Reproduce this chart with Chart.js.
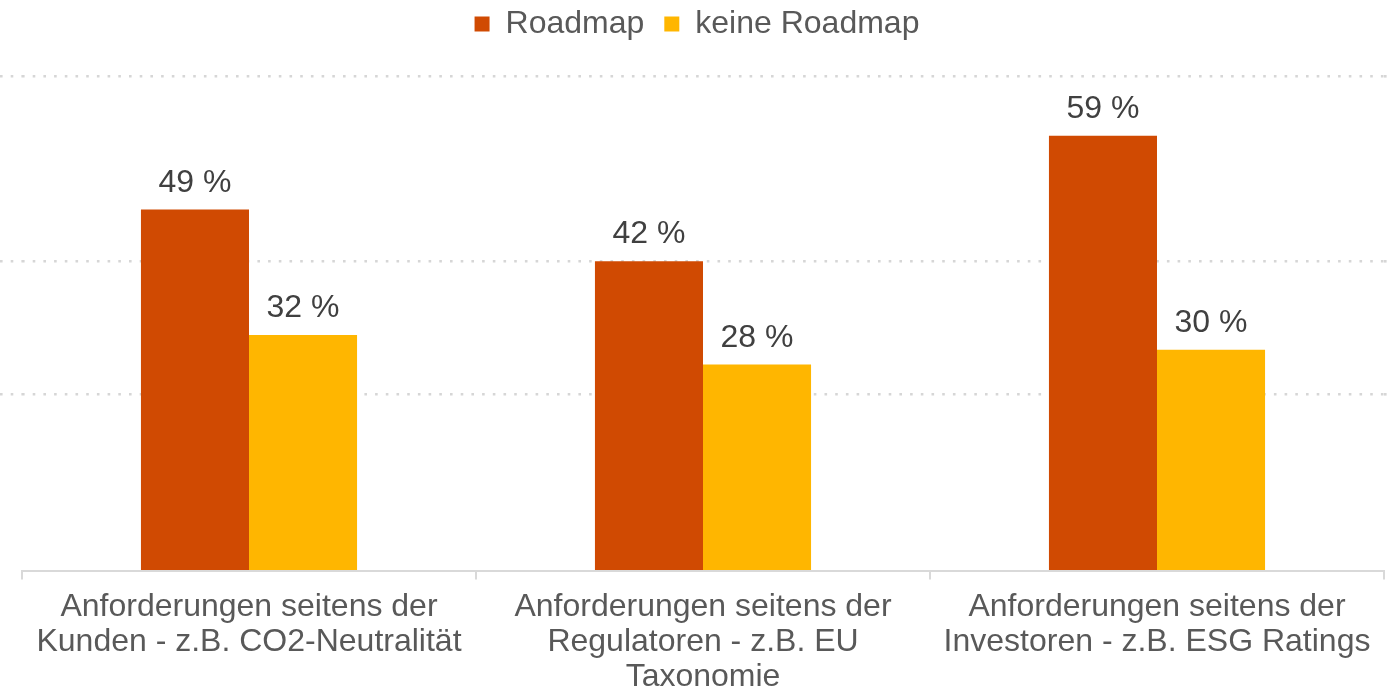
<!DOCTYPE html>
<html>
<head>
<meta charset="utf-8">
<script src="https://cdn.jsdelivr.net/npm/chart.js@4/dist/chart.umd.min.js"></script>
<style>
  html, body { margin: 0; padding: 0; background: #fff; }
  #wrap { width: 1394px; height: 694px; position: relative; }
</style>
</head>
<body>
<div id="wrap"><canvas id="chart"></canvas></div>
<script>
const categories = [
  ["Anforderungen seitens der", "Kunden - z.B. CO2-Neutralität"],
  ["Anforderungen seitens der", "Regulatoren - z.B. EU", "Taxonomie"],
  ["Anforderungen seitens der", "Investoren - z.B. ESG Ratings"]
]
const roadmap = [49, 42, 59]
const keineRoadmap = [32, 28, 30]
const gridValues = [0, 24, 42, 67]

const FONT = "'Liberation Sans', Arial, sans-serif"

const valueLabels = {
  id: "valueLabels",
  afterDatasetsDraw(chart) {
    const ctx = chart.ctx
    ctx.save()
    ctx.font = "32px " + FONT
    ctx.fillStyle = "#404040"
    ctx.textAlign = "center"
    ctx.textBaseline = "alphabetic"
    chart.data.datasets.forEach((ds, i) => {
      chart.getDatasetMeta(i).data.forEach((bar, j) => {
        ctx.fillText(ds.data[j] + " %", bar.x, bar.y - 18)
      })
    })
    ctx.restore()
  }
}

const setTicks = (scale) => { scale.ticks = gridValues.map(v => ({ value: v })) }
const gridColor = (c) => c.tick && c.tick.value === 0 ? "rgba(0,0,0,0)" : "#d6d6d6"
const DOTS = [2.6, 8.1]

new Chart(document.getElementById("chart"), {
  type: "bar",
  data: {
    labels: categories,
    datasets: [
      { label: "Roadmap", data: roadmap, backgroundColor: "#D04A02" },
      { label: "keine Roadmap", data: keineRoadmap, backgroundColor: "#FFB600" }
    ]
  },
  options: {
    responsive: true,
    maintainAspectRatio: false,
    animation: false,
    categoryPercentage: 0.476,
    barPercentage: 1.0,
    layout: { padding: { left: 0, right: 0, top: -12, bottom: -11 } },
    plugins: {
      legend: {
        position: "top",
        labels: {
          font: { size: 32, family: FONT },
          color: "#595959",
          boxWidth: 15,
          boxHeight: 15,
          padding: 20
        }
      },
      tooltip: { enabled: false }
    },
    scales: {
      x: {
        grid: {
          offset: true,
          drawOnChartArea: false,
          color: "#d9d9d9",
          lineWidth: 2,
          tickLength: 8
        },
        border: { color: "#d9d9d9", width: 2 },
        ticks: {
          font: { size: 32, family: FONT, lineHeight: 1.1 },
          color: "#595959",
          padding: 10,
          maxRotation: 0,
          autoSkip: false
        }
      },
      y: {
        min: 0,
        max: 70.6,
        afterBuildTicks: setTicks,
        ticks: { display: false },
        border: { display: false, dash: DOTS },
        grid: {
          color: gridColor,
          lineWidth: 2.6,
          tickBorderDash: DOTS,
          tickLength: 22
        }
      },
      y2: {
        position: "right",
        min: 0,
        max: 70.6,
        afterBuildTicks: setTicks,
        ticks: { display: false },
        border: { display: false, dash: DOTS },
        grid: {
          drawOnChartArea: false,
          color: gridColor,
          lineWidth: 2.6,
          tickBorderDash: DOTS,
          tickLength: 10
        }
      }
    }
  },
  plugins: [valueLabels]
})
</script>
</body>
</html>
